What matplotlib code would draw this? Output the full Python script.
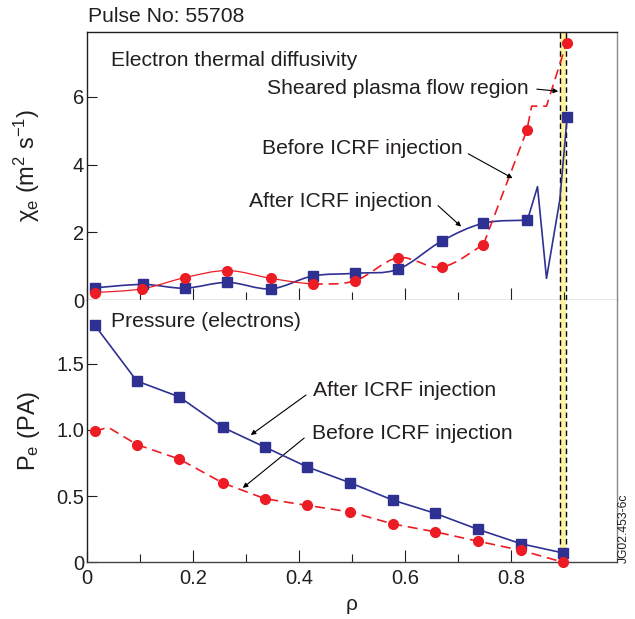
import numpy as np
import matplotlib
matplotlib.use('Agg')
import matplotlib.pyplot as plt
from matplotlib.path import Path
from matplotlib.patches import PathPatch

plt.rcParams['font.family'] = ['Liberation Sans', 'DejaVu Sans']
plt.rcParams['mathtext.fontset'] = 'custom'
plt.rcParams['mathtext.rm'] = 'Liberation Sans'
plt.rcParams['mathtext.it'] = 'Liberation Sans:italic'
plt.rcParams['mathtext.bf'] = 'Liberation Sans:bold'

# ---------------- data ----------------
# Electron thermal diffusivity (upper panel)
chi_rho_after = [0.015, 0.106, 0.184, 0.265, 0.347, 0.426, 0.506, 0.587, 0.669, 0.748, 0.831, 0.906]
chi_after = [0.36, 0.46, 0.35, 0.52, 0.33, 0.71, 0.79, 0.91, 1.74, 2.27, 2.36, 5.41]
chi_after_tail_rho = [0.831, 0.850, 0.867, 0.892, 0.906]
chi_after_tail = [2.36, 3.35, 0.64, 2.95, 5.41]

chi_rho_before = [0.015, 0.104, 0.184, 0.265, 0.347, 0.426, 0.506, 0.587, 0.669, 0.748, 0.830, 0.905]
chi_before = [0.22, 0.33, 0.66, 0.87, 0.64, 0.48, 0.57, 1.25, 0.97, 1.64, 5.02, 7.61]
chi_before_tail_rho = [0.748, 0.830, 0.839, 0.867, 0.905]
chi_before_tail = [1.64, 5.02, 5.73, 5.73, 7.61]

# Electron pressure (lower panel)
pe_rho = [0.015, 0.094, 0.174, 0.256, 0.336, 0.416, 0.497, 0.577, 0.657, 0.737, 0.819, 0.899]
pe_after = [1.79, 1.37, 1.25, 1.02, 0.87, 0.72, 0.60, 0.47, 0.37, 0.25, 0.14, 0.07]
pe_before = [0.99, 0.89, 0.78, 0.60, 0.48, 0.43, 0.38, 0.29, 0.23, 0.16, 0.09, 0.00]
pe_before_line_rho = [0.015, 0.040, 0.094, 0.174, 0.256, 0.336, 0.416, 0.497, 0.577, 0.657, 0.737, 0.819, 0.899]
pe_before_line = [0.99, 1.02, 0.89, 0.78, 0.60, 0.48, 0.43, 0.38, 0.29, 0.23, 0.16, 0.09, 0.00]

# Sheared plasma flow region
shear_lo, shear_hi = 0.892, 0.904

x_major = [0.0, 0.2, 0.4, 0.6, 0.8]
x_minor = [0.1, 0.3, 0.5, 0.7, 0.9]
x_labels = ['0', '0.2', '0.4', '0.6', '0.8']
chi_ticks = [0, 2, 4, 6]
pe_ticks = [0, 0.5, 1.0, 1.5]
pe_labels = ['0', '0.5', '1.0', '1.5']

BLUE = '#2e3192'
RED = '#ed1c24'
YELLOW = '#fdf3a1'
DARK = '#231f20'
GRAY = '#8a8a8a'
FS = 15.2
TFS = 14.5


def catmull_bezier(x, y):
    """Cubic Bezier segments (Catmull-Rom) through the given points."""
    P = np.column_stack([x, y]).astype(float)
    n = len(P)
    segs = []
    for i in range(n - 1):
        p0 = P[i - 1] if i > 0 else P[i]
        p1 = P[i]
        p2 = P[i + 1]
        p3 = P[i + 2] if i + 2 < n else P[i + 1]
        c1 = p1 + (p2 - p0) / 6.0
        c2 = p2 - (p3 - p1) / 6.0
        segs.append([p1, c1, c2, p2])
    return segs


def seg_path(segs):
    verts = [segs[0][0]]
    codes = [Path.MOVETO]
    for s in segs:
        verts += [s[1], s[2], s[3]]
        codes += [Path.CURVE4] * 3
    return Path(np.array(verts), codes)


fig = plt.figure(figsize=(6.35, 6.19), dpi=100)
L, R = 87 / 635, 617 / 635
def fy(py):
    return 1 - py / 619
ax1 = fig.add_axes([L, fy(300), R - L, fy(31.7) - fy(300)])
ax2 = fig.add_axes([L, fy(562.3), R - L, fy(300) - fy(562.3)])

for ax in (ax1, ax2):
    ax.set_xlim(0, 1.0)
    ax.axvspan(shear_lo, shear_hi, color=YELLOW, zorder=0, lw=0)
    for xv in (shear_lo, shear_hi):
        ax.axvline(xv, color='k', lw=1.0, ls=(0, (4, 2.5)), zorder=1)
    ax.set_xticks(x_major)
    ax.set_xticks(x_minor, minor=True)
    ax.tick_params(axis='x', which='major', direction='in', length=8.6, width=0.8,
                   color=DARK, labelsize=TFS, pad=4.5, labelcolor=DARK)
    ax.tick_params(axis='x', which='minor', direction='in', length=5.8, width=0.8, color=DARK)
    ax.tick_params(axis='y', which='major', direction='in', length=7.5, width=0.8,
                   color=DARK, labelsize=TFS, pad=2, labelcolor=DARK)

# spines
ax1.spines['top'].set_color(DARK)
ax1.spines['left'].set_color(DARK)
ax1.spines['right'].set_color(GRAY)
ax1.spines['bottom'].set_color(GRAY)
ax2.spines['top'].set_visible(False)
ax2.spines['left'].set_color(DARK)
ax2.spines['right'].set_color(GRAY)
ax2.spines['bottom'].set_color('#444444')
for ax in (ax1, ax2):
    for s in ax.spines.values():
        s.set_linewidth(1.0)

# ---------- upper panel ----------
ax1.set_ylim(0, 7.93)
ax1.set_yticks(chi_ticks)
ax1.set_yticklabels([str(t) for t in chi_ticks])
ax1.tick_params(axis='x', labelbottom=False)

# after ICRF: smooth then linear zigzag tail
segs_a = catmull_bezier(chi_rho_after[:11], chi_after[:11])
ax1.add_patch(PathPatch(seg_path(segs_a), fill=False, edgecolor=BLUE, lw=1.2, zorder=3))
ax1.plot(chi_after_tail_rho, chi_after_tail, color=BLUE, lw=1.2, zorder=3, clip_on=False)
ax1.plot(chi_rho_after, chi_after, ls='none', marker='s', ms=7, color=BLUE, zorder=5, clip_on=False)

# before ICRF: thin solid core part, dashed outer part
segs_b = catmull_bezier(chi_rho_before[:10], chi_before[:10])
ax1.add_patch(PathPatch(seg_path(segs_b[:5]), fill=False, edgecolor=RED, lw=0.9, zorder=3))
ax1.add_patch(PathPatch(seg_path(segs_b[5:]), fill=False, edgecolor=RED, lw=1.2,
                        ls=(0, (6, 3.5)), zorder=3))
ax1.plot(chi_before_tail_rho, chi_before_tail, color=RED, lw=1.2, ls=(0, (6, 3.5)), zorder=3)
ax1.plot(chi_rho_before, chi_before, ls='none', marker='o', ms=7, color=RED, zorder=5, clip_on=False)

ax1.set_ylabel(r'$\mathrm{\chi_e\ (m^2\ s^{-1})}$', fontsize=17, color=DARK)
ax1.yaxis.set_label_coords(-0.085, 0.5)

arrow = dict(arrowstyle='-|>', color='k', lw=0.8, mutation_scale=7, shrinkA=0, shrinkB=0)
ax1.text(0.045, 7.09, 'Electron thermal diffusivity', fontsize=FS, color=DARK, va='center', ha='left')
ax1.annotate('Sheared plasma flow region', xy=(0.889, 6.17), xytext=(0.834, 6.26),
             fontsize=FS, color=DARK, va='center', ha='right', arrowprops=dict(arrow, relpos=(1.03, 0.45)))
ax1.annotate('Before ICRF injection', xy=(0.803, 3.60), xytext=(0.708, 4.49),
             fontsize=FS, color=DARK, va='center', ha='right', arrowprops=dict(arrow, relpos=(1.03, 0.2)))
ax1.annotate('After ICRF injection', xy=(0.706, 2.17), xytext=(0.652, 2.90),
             fontsize=FS, color=DARK, va='center', ha='right', arrowprops=dict(arrow, relpos=(1.03, 0.3)))

# ---------- lower panel ----------
ax2.set_ylim(0, 1.982)
ax2.set_yticks(pe_ticks)
ax2.set_yticklabels(pe_labels)
ax2.set_xticklabels(x_labels)

ax2.plot(pe_rho, pe_after, color=BLUE, lw=1.2, marker='s', ms=7, zorder=5, clip_on=False)
ax2.plot(pe_before_line_rho, pe_before_line, color=RED, lw=1.2, ls=(0, (6, 3.5)), zorder=4, clip_on=False)
ax2.plot(pe_rho, pe_before, ls='none', marker='o', ms=7, color=RED, zorder=5, clip_on=False)

ax2.set_ylabel(r'$\mathrm{P_e\ (PA)}$', fontsize=17, color=DARK)
ax2.yaxis.set_label_coords(-0.085, 0.5)
ax2.set_xlabel('ρ', fontsize=15, color=DARK)
ax2.xaxis.set_label_coords(0.5, -0.125)

ax2.text(0.045, 1.82, 'Pressure (electrons)', fontsize=FS, color=DARK, va='center', ha='left')
ax2.annotate('After ICRF injection', xy=(0.309, 0.962), xytext=(0.427, 1.30),
             fontsize=FS, color=DARK, va='center', ha='left', arrowprops=dict(arrow, relpos=(-0.04, 0.25)))
ax2.annotate('Before ICRF injection', xy=(0.294, 0.562), xytext=(0.425, 0.975),
             fontsize=FS, color=DARK, va='center', ha='left', arrowprops=dict(arrow, relpos=(-0.04, 0.25)))

fig.text(88 / 635, fy(16), 'Pulse No: 55708', fontsize=FS, color=DARK, ha='left', va='center')
fig.text(624 / 635, fy(528), 'JG02.453-6c', fontsize=8.7, color=DARK, rotation=90, ha='center', va='center')

fig.savefig('out.png', dpi=100)
